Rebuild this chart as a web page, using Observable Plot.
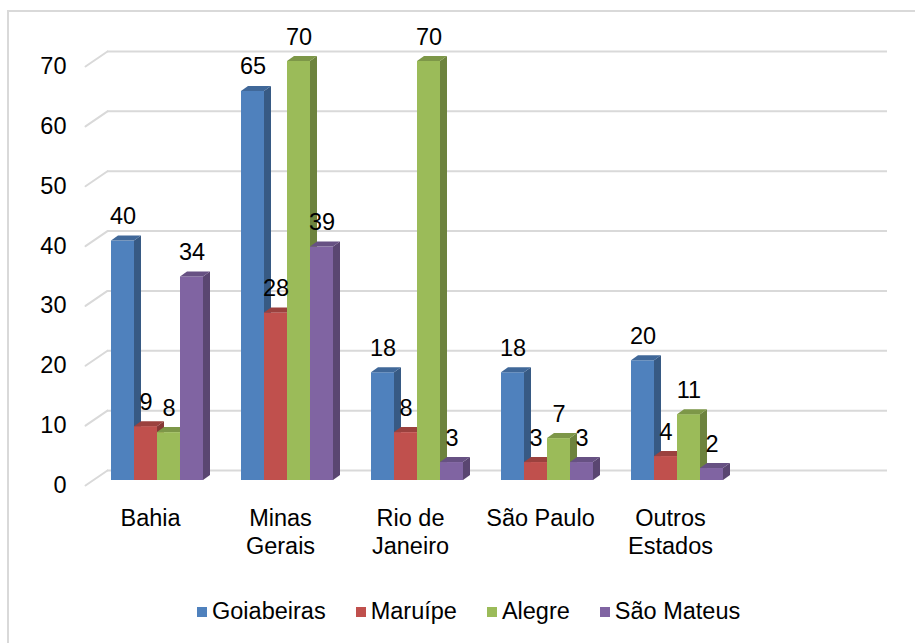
<!DOCTYPE html>
<html><head><meta charset="utf-8">
<script src="https://cdn.jsdelivr.net/npm/d3@7"></script>
<script src="https://cdn.jsdelivr.net/npm/@observablehq/plot@0.6"></script>
<style>
html,body{margin:0;padding:0;background:#fff;overflow:hidden;}
body{width:915px;height:643px;position:relative;font-family:"Liberation Sans",Arial,sans-serif;color:#000;}
#frame{position:absolute;left:7px;top:9.5px;width:2000px;height:2000px;border-left:2px solid #D9D9D9;border-top:2px solid #D9D9D9;pointer-events:none;}
#chart svg{display:block;}
#legend{position:relative;height:54px;display:flex;align-items:center;padding-left:197px;font-size:23.5px;line-height:1;}
.item{display:flex;align-items:center;margin-right:30px;}
.sw{width:10px;height:10px;margin-right:5px;}
</style></head>
<body>
<div id="chart"></div>
<div id="legend"></div>
<div id="frame"></div>
<script>
// ---- data ----
const states = ["Bahia", "Minas\nGerais", "Rio de\nJaneiro", "São Paulo", "Outros\nEstados"];
const emptySlot = "";
const series = ["Goiabeiras", "Maruípe", "Alegre", "São Mateus"];
const goiabeiras = [40, 65, 18, 18, 20];
const maruipe = [9, 28, 8, 3, 4];
const alegre = [8, 70, 70, 7, 11];
const saoMateus = [34, 39, 3, 3, 2];
const yTicks = [0, 10, 20, 30, 40, 50, 60, 70];
const colors = ["#4F81BD", "#C0504D", "#9BBB59", "#8064A2"];

const seriesValues = [goiabeiras, maruipe, alegre, saoMateus];
const rows = states.flatMap((s, i) => seriesValues.map((arr, j) => ({state: s, series: series[j], value: arr[i]})));
const slots = [...states, emptySlot];

const DEPTH_X = 7, DEPTH_Y = -5;
const NS = "http://www.w3.org/2000/svg";

function threeD(index, scales, values, dimensions, context, next) {
  const g = next(index, scales, values, dimensions, context);
  if (!g) return g;
  g.querySelectorAll("rect").forEach(r => {
    const x = +r.getAttribute("x"), y = +r.getAttribute("y");
    const w = +r.getAttribute("width"), h = +r.getAttribute("height");
    const c = d3.color(r.getAttribute("fill"));
    const side = document.createElementNS(NS, "polygon");
    side.setAttribute("points", [[x + w, y], [x + w + DEPTH_X, y + DEPTH_Y], [x + w + DEPTH_X, y + h + DEPTH_Y], [x + w, y + h]].map(p => p.join(",")).join(" "));
    side.setAttribute("fill", c.darker(1.0).formatHex());
    const top = document.createElementNS(NS, "polygon");
    top.setAttribute("points", [[x, y], [x + DEPTH_X, y + DEPTH_Y], [x + w + DEPTH_X, y + DEPTH_Y], [x + w, y]].map(p => p.join(",")).join(" "));
    top.setAttribute("fill", c.darker(0.6).formatHex());
    r.after(side, top);
  });
  return g;
}

const slant = {draw(ctx, l) { ctx.moveTo(0, 0); ctx.lineTo(0, -l); }};

const chart = Plot.plot({
  width: 915,
  height: 585,
  marginLeft: 85,
  marginRight: 50,
  marginTop: 61,
  marginBottom: 105,
  style: {fontFamily: "'Liberation Sans', Arial, sans-serif", fontSize: "23.5px", color: "#000", background: "transparent", overflow: "visible"},
  fx: {domain: slots, paddingInner: 0, paddingOuter: 0, axis: null, label: null},
  x: {domain: series, paddingInner: 0, paddingOuter: 0.766, align: 0.694, axis: null, label: null},
  y: {domain: [0, 70], label: null},
  color: {domain: series, range: colors},
  marks: [
    Plot.ruleY(yTicks, {y: d => d, dx: 22, dy: -10, stroke: "#D9D9D9", strokeWidth: 2}),
    Plot.vector(yTicks, {fx: () => states[0], y: d => d, frameAnchor: "left", dy: 5, length: 26.6, rotate: 55.7, anchor: "start", shape: slant, stroke: "#D9D9D9", strokeWidth: 2}),
    Plot.axisY(yTicks, {tickSize: 0, tickPadding: 19, dy: 5, fontSize: 23.5, label: null, fill: "#000"}),
    Plot.barY(rows, {fx: "state", x: "series", y: "value", fill: "series", inset: 0, render: threeD}),
    Plot.text(rows, {fx: "state", x: "series", y: "value", text: d => String(d.value), dy: -24.5, fontSize: 23.5, fill: "#000"}),
    Plot.text(slots, {fx: d => d, text: d => d, frameAnchor: "bottom", lineAnchor: "top", dy: 25.5, lineHeight: 1.2, fontSize: 23.5, fill: "#000"})
  ]
});
document.getElementById("chart").append(chart);

const legend = document.getElementById("legend");
series.forEach((s, i) => {
  const item = document.createElement("div");
  item.className = "item";
  const sw = document.createElement("div");
  sw.className = "sw";
  sw.style.background = colors[i];
  const t = document.createElement("span");
  t.textContent = s;
  item.append(sw, t);
  legend.append(item);
});
</script>
</body></html>
